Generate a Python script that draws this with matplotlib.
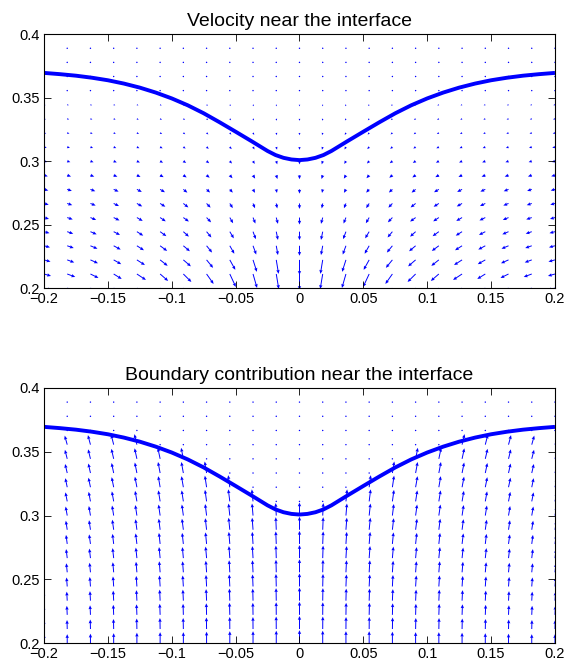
import numpy as np
import matplotlib
matplotlib.use('Agg')
import matplotlib.pyplot as plt

plt.rcParams['font.family'] = ['Liberation Sans', 'DejaVu Sans']

# ── grid of the quiver plots ──
xs = np.linspace(-0.2, 0.2, 23)
ys = np.linspace(0.2, 0.4, 19)

# ── interface curve ──
curve_x = [-0.2, -0.1875, -0.175, -0.1625, -0.15, -0.1375, -0.125, -0.1125, -0.1,
           -0.0875, -0.075, -0.0625, -0.05, -0.0375, -0.025, -0.01875, -0.0125, -0.00625, 0.0,
           0.00625, 0.0125, 0.01875, 0.025, 0.0375, 0.05, 0.0625, 0.075, 0.0875, 0.1,
           0.1125, 0.125, 0.1375, 0.15, 0.1625, 0.175, 0.1875, 0.2]
curve_y = [0.3695, 0.3685, 0.3673, 0.3657, 0.3637, 0.3611, 0.3579, 0.3540, 0.3494,
           0.3440, 0.3377, 0.3306, 0.3232, 0.3157, 0.3080, 0.3048, 0.3026, 0.3013, 0.3008,
           0.3013, 0.3026, 0.3048, 0.3080, 0.3157, 0.3232, 0.3306, 0.3377, 0.3440, 0.3494,
           0.3540, 0.3579, 0.3611, 0.3637, 0.3657, 0.3673, 0.3685, 0.3695]

# ── velocity near the interface (rows: y = 0.2 ... 0.4) ──
vel_u = [
    [7.5, 8.5, 8.5, 9, 9.5, 9, 9, 8, 7, 5, 3, 0, -3, -5, -7, -8, -9, -9, -9.5, -9, -8.5, -8.5, -7.5],
    [7, 8, 8, 8, 9, 8, 8, 7, 6, 4, 2.5, 0, -2.5, -4, -6, -7, -8, -8, -9, -8, -8, -8, -7],
    [6.5, 7, 7.5, 7.5, 8, 7.5, 7.5, 6.5, 5.5, 3.8, 2.3, 0, -2.3, -3.8, -5.5, -6.5, -7.5, -7.5, -8, -7.5, -7.5, -7, -6.5],
    [6, 6.5, 7, 7, 7, 7, 6.5, 5.5, 4.5, 3.2, 1.7, 0, -1.7, -3.2, -4.5, -5.5, -6.5, -7, -7, -7, -7, -6.5, -6],
    [5.5, 6, 6.2, 6.3, 6.3, 6.2, 5.5, 4.8, 4, 2.8, 1.7, 0, -1.7, -2.8, -4, -4.8, -5.5, -6.2, -6.3, -6.3, -6.2, -6, -5.5],
    [5, 5.5, 5.7, 5.8, 5.8, 5.6, 5.5, 4.5, 3.3, 2.4, 1.7, 0, -1.7, -2.4, -3.3, -4.5, -5.5, -5.6, -5.8, -5.8, -5.7, -5.5, -5],
    [4.7, 5, 5.2, 5.3, 5.3, 5.2, 5, 4, 3, 2, 1, 0, -1, -2, -3, -4, -5, -5.2, -5.3, -5.3, -5.2, -5, -4.7],
    [4.3, 4.6, 4.8, 4.9, 4.9, 4.8, 4, 3.5, 3, 2, 0.7, 0, -0.7, -2, -3, -3.5, -4, -4.8, -4.9, -4.9, -4.8, -4.6, -4.3],
    [3.8, 3.8, 3.8, 3.7, 3.6, 3.5, 3.3, 3.1, 2.7, 2.1, 1.2, 0, -1.2, -2.1, -2.7, -3.1, -3.3, -3.5, -3.6, -3.7, -3.8, -3.8, -3.8],
    [3.2, 3.1, 3.1, 3.1, 3, 2.9, 2.8, 2.6, 2.2, 1.7, 1, 0, -1, -1.7, -2.2, -2.6, -2.8, -2.9, -3, -3.1, -3.1, -3.1, -3.2],
    [2.7, 2.7, 2.6, 2.6, 2.5, 2.5, 2.3, 2.2, 1.9, 1.5, 0.8, 0, -0.8, -1.5, -1.9, -2.2, -2.3, -2.5, -2.5, -2.6, -2.6, -2.7, -2.7],
    [2.2, 2.2, 2.2, 2.1, 2.1, 2, 1.9, 1.8, 1.5, 1.2, 0.7, 0, -0.7, -1.2, -1.5, -1.8, -1.9, -2, -2.1, -2.1, -2.2, -2.2, -2.2],
    [1.9, 1.9, 1.9, 1.9, 1.8, 1.8, 1.7, 1.5, 1.3, 1, 0.6, 0, -0.6, -1, -1.3, -1.5, -1.7, -1.8, -1.8, -1.9, -1.9, -1.9, -1.9],
    [1.6, 1.6, 1.6, 1.6, 1.5, 1.5, 1.4, 1.3, 1.1, 0.9, 0.5, 0, -0.5, -0.9, -1.1, -1.3, -1.4, -1.5, -1.5, -1.6, -1.6, -1.6, -1.6],
    [1.3, 1.3, 1.3, 1.3, 1.3, 1.2, 1.2, 1.1, 0.9, 0.7, 0.4, 0, -0.4, -0.7, -0.9, -1.1, -1.2, -1.2, -1.3, -1.3, -1.3, -1.3, -1.3],
    [1.1, 1.1, 1.1, 1.1, 1.1, 1.1, 1, 0.9, 0.8, 0.6, 0.3, 0, -0.3, -0.6, -0.8, -0.9, -1, -1.1, -1.1, -1.1, -1.1, -1.1, -1.1],
    [1.1, 1, 1, 1, 1, 1, 0.9, 0.9, 0.7, 0.6, 0.3, 0, -0.3, -0.6, -0.7, -0.9, -0.9, -1, -1, -1, -1, -1, -1.1],
    [1, 1, 0.9, 0.9, 0.9, 0.9, 0.8, 0.8, 0.7, 0.5, 0.3, 0, -0.3, -0.5, -0.7, -0.8, -0.8, -0.9, -0.9, -0.9, -0.9, -1, -1],
    [0.9, 0.9, 0.8, 0.8, 0.8, 0.8, 0.8, 0.7, 0.6, 0.5, 0.3, 0, -0.3, -0.5, -0.6, -0.7, -0.8, -0.8, -0.8, -0.8, -0.8, -0.9, -0.9],
]
vel_v = [
    [-2, -3, -4.5, -5.5, -6.5, -8, -9, -11, -14, -16, -17, -18, -17, -16, -14, -11, -9, -8, -6.5, -5.5, -4.5, -3, -2],
    [-2, -3, -4, -5, -6, -7, -8, -10, -13, -14, -15, -16, -15, -14, -13, -10, -8, -7, -6, -5, -4, -3, -2],
    [-1.8, -2.6, -3.4, -4.3, -5.2, -6, -6.5, -8, -10, -12, -14, -15, -14, -12, -10, -8, -6.5, -6, -5.2, -4.3, -3.4, -2.6, -1.8],
    [-1.6, -2.3, -3, -3.8, -4.5, -5.2, -5.5, -6.8, -8, -8.8, -9.3, -10, -9.3, -8.8, -8, -6.8, -5.5, -5.2, -4.5, -3.8, -3, -2.3, -1.6],
    [-1.5, -2.1, -2.7, -3.3, -4, -4.5, -5, -5.8, -6.7, -7.5, -8.3, -8.5, -8.3, -7.5, -6.7, -5.8, -5, -4.5, -4, -3.3, -2.7, -2.1, -1.5],
    [-1.4, -1.9, -2.4, -2.9, -3.4, -3.8, -4, -4.8, -5.7, -6, -6.3, -7, -6.3, -6, -5.7, -4.8, -4, -3.8, -3.4, -2.9, -2.4, -1.9, -1.4],
    [-1.3, -1.7, -2.1, -2.6, -3, -3.3, -4, -4.2, -4.7, -4.8, -5, -5.5, -5, -4.8, -4.7, -4.2, -4, -3.3, -3, -2.6, -2.1, -1.7, -1.3],
    [-1.2, -1.6, -1.9, -2.3, -2.6, -2.9, -3.3, -3.2, -3.3, -3.5, -3.6, -4.3, -3.6, -3.5, -3.3, -3.2, -3.3, -2.9, -2.6, -2.3, -1.9, -1.6, -1.2],
    [-1.1, -1.3, -1.4, -1.5, -1.7, -1.9, -2.2, -2.5, -3, -3.4, -3.8, -4, -3.8, -3.4, -3, -2.5, -2.2, -1.9, -1.7, -1.5, -1.4, -1.3, -1.1],
    [-0.9, -1, -1.1, -1.3, -1.4, -1.6, -1.8, -2.1, -2.4, -2.8, -3.2, -3.3, -3.2, -2.8, -2.4, -2.1, -1.8, -1.6, -1.4, -1.3, -1.1, -1, -0.9],
    [-0.8, -0.9, -1, -1.1, -1.2, -1.3, -1.5, -1.8, -2.1, -2.4, -2.7, -2.8, -2.7, -2.4, -2.1, -1.8, -1.5, -1.3, -1.2, -1.1, -1, -0.9, -0.8],
    [-0.7, -0.7, -0.8, -0.9, -1, -1.1, -1.3, -1.5, -1.7, -2, -2.2, -2.3, -2.2, -2, -1.7, -1.5, -1.3, -1.1, -1, -0.9, -0.8, -0.7, -0.7],
    [-0.6, -0.6, -0.7, -0.8, -0.9, -1, -1.1, -1.3, -1.5, -1.7, -1.9, -2, -1.9, -1.7, -1.5, -1.3, -1.1, -1, -0.9, -0.8, -0.7, -0.6, -0.6],
    [-0.5, -0.5, -0.6, -0.6, -0.7, -0.8, -0.9, -1.1, -1.3, -1.5, -1.6, -1.7, -1.6, -1.5, -1.3, -1.1, -0.9, -0.8, -0.7, -0.6, -0.6, -0.5, -0.5],
    [-0.4, -0.4, -0.5, -0.5, -0.6, -0.7, -0.8, -0.9, -1, -1.2, -1.3, -1.4, -1.3, -1.2, -1, -0.9, -0.8, -0.7, -0.6, -0.5, -0.5, -0.4, -0.4],
    [-0.3, -0.4, -0.4, -0.5, -0.5, -0.6, -0.7, -0.8, -0.9, -1, -1.1, -1.2, -1.1, -1, -0.9, -0.8, -0.7, -0.6, -0.5, -0.5, -0.4, -0.4, -0.3],
    [-0.3, -0.3, -0.4, -0.4, -0.5, -0.5, -0.6, -0.7, -0.8, -0.9, -1.1, -1.1, -1.1, -0.9, -0.8, -0.7, -0.6, -0.5, -0.5, -0.4, -0.4, -0.3, -0.3],
    [-0.3, -0.3, -0.3, -0.4, -0.4, -0.5, -0.6, -0.6, -0.7, -0.9, -1, -1, -1, -0.9, -0.7, -0.6, -0.6, -0.5, -0.4, -0.4, -0.3, -0.3, -0.3],
    [-0.3, -0.3, -0.3, -0.3, -0.4, -0.4, -0.5, -0.6, -0.7, -0.8, -0.9, -0.9, -0.9, -0.8, -0.7, -0.6, -0.5, -0.4, -0.4, -0.3, -0.3, -0.3, -0.3],
]

# ── boundary contribution near the interface ──
bnd_u = [
    [0] * 23,
    [-0.2, -0.2, -0.2, -0.2, -0.2, -0.2, -0.2, -0.2, -0.1, -0.1, -0.1, 0, 0.1, 0.1, 0.1, 0.2, 0.2, 0.2, 0.2, 0.2, 0.2, 0.2, 0.2],
    [-0.4, -0.4, -0.4, -0.4, -0.4, -0.4, -0.3, -0.3, -0.3, -0.2, -0.1, 0, 0.1, 0.2, 0.3, 0.3, 0.3, 0.4, 0.4, 0.4, 0.4, 0.4, 0.4],
    [-0.6, -0.5, -0.5, -0.5, -0.5, -0.5, -0.5, -0.5, -0.4, -0.3, -0.2, 0, 0.2, 0.3, 0.4, 0.5, 0.5, 0.5, 0.5, 0.5, 0.5, 0.5, 0.6],
    [-0.8, -0.7, -0.7, -0.7, -0.7, -0.7, -0.7, -0.6, -0.6, -0.5, -0.3, 0, 0.3, 0.5, 0.6, 0.6, 0.7, 0.7, 0.7, 0.7, 0.7, 0.7, 0.8],
    [-1, -0.9, -0.9, -0.9, -0.9, -0.9, -0.8, -0.8, -0.7, -0.6, -0.3, 0, 0.3, 0.6, 0.7, 0.8, 0.8, 0.9, 0.9, 0.9, 0.9, 0.9, 1],
    [-1.2, -1.1, -1.1, -1.1, -1.1, -1.1, -1, -1, -0.9, -0.7, -0.4, 0, 0.4, 0.7, 0.9, 1, 1, 1.1, 1.1, 1.1, 1.1, 1.1, 1.2],
    [-1.4, -1.2, -1.3, -1.2, -1.3, -1.2, -1.2, -1.1, -1, -0.8, -0.5, 0, 0.5, 0.8, 1, 1.1, 1.2, 1.2, 1.3, 1.2, 1.3, 1.2, 1.4],
    [-1.6, -1.4, -1.4, -1.4, -1.4, -1.4, -1.4, -1.3, -1.2, -0.9, -0.5, 0, 0.5, 0.9, 1.2, 1.3, 1.4, 1.4, 1.4, 1.4, 1.4, 1.4, 1.6],
    [-1.9, -1.6, -1.6, -1.6, -1.6, -1.6, -1.5, -1.4, -1.3, -1, -0.6, 0, 0.6, 1, 1.3, 1.4, 1.5, 1.6, 1.6, 1.6, 1.6, 1.6, 1.9],
    [-2.1, -1.8, -1.8, -1.8, -1.8, -1.8, -1.7, -1.6, -1.5, -1.2, 0, 0, 0, 1.2, 1.5, 1.6, 1.7, 1.8, 1.8, 1.8, 1.8, 1.8, 2.1],
    [-2.3, -1.9, -2, -2, -2, -1.9, -1.9, -1.7, -1.6, 0, 0, 0, 0, 0, 1.6, 1.7, 1.9, 1.9, 2, 2, 2, 1.9, 2.3],
    [-2.5, -2.1, -2.1, -2.1, -2.1, -2.1, -2, -1.9, 0, 0, 0, 0, 0, 0, 0, 1.9, 2, 2.1, 2.1, 2.1, 2.1, 2.1, 2.5],
    [-2.7, -2.3, -2.3, -2.3, -2.3, -2.3, -2.2, 0, 0, 0, 0, 0, 0, 0, 0, 0, 2.2, 2.3, 2.3, 2.3, 2.3, 2.3, 2.7],
    [-2.9, -2.5, -2.5, -2.5, -2.5, 0, 0, 0, 0, 0, 0, 0, 0, 0, 0, 0, 0, 0, 2.5, 2.5, 2.5, 2.5, 2.9],
    [0] * 23,
    [0] * 23,
    [0] * 23,
    [0] * 23,
]
bnd_v = [
    [9, 9, 9.5, 10, 10.5, 11, 11, 11.5, 12, 12, 12.5, 13, 12.5, 12, 12, 11.5, 11, 11, 10.5, 10, 9.5, 9, 9],
    [9, 9, 9.5, 10, 10.5, 11, 11, 11.5, 12, 12, 12.5, 13, 12.5, 12, 12, 11.5, 11, 11, 10.5, 10, 9.5, 9, 9],
    [9, 9, 9.5, 10, 10.5, 11, 11, 11.5, 12, 12, 12.5, 13, 12.5, 12, 12, 11.5, 11, 11, 10.5, 10, 9.5, 9, 9],
    [9, 9, 9.5, 10, 10.5, 11, 11, 11.5, 12, 12, 12.5, 13, 12.5, 12, 12, 11.5, 11, 11, 10.5, 10, 9.5, 9, 9],
    [9, 9, 9.5, 10, 10.5, 11, 11, 11.5, 12, 12, 12.5, 13, 12.5, 12, 12, 11.5, 11, 11, 10.5, 10, 9.5, 9, 9],
    [9, 9, 9.5, 10, 10.5, 11, 11, 11.5, 12, 12, 12.5, 13, 12.5, 12, 12, 11.5, 11, 11, 10.5, 10, 9.5, 9, 9],
    [9, 9, 9.5, 10, 10.5, 11, 11, 11.5, 12, 12, 12.5, 13, 12.5, 12, 12, 11.5, 11, 11, 10.5, 10, 9.5, 9, 9],
    [9, 9, 9.5, 10, 10.5, 11, 11, 11.5, 12, 12, 12.5, 13, 12.5, 12, 12, 11.5, 11, 11, 10.5, 10, 9.5, 9, 9],
    [9, 9, 9.5, 10, 10.5, 11, 11, 11.5, 12, 12, 12.5, 13, 12.5, 12, 12, 11.5, 11, 11, 10.5, 10, 9.5, 9, 9],
    [9, 9, 9.5, 10, 10.5, 11, 11, 11.5, 12, 12, 12.5, 13, 12.5, 12, 12, 11.5, 11, 11, 10.5, 10, 9.5, 9, 9],
    [9, 9, 9.5, 10, 10.5, 11, 11, 11.5, 12, 12, 1.2, 1.2, 1.2, 12, 12, 11.5, 11, 11, 10.5, 10, 9.5, 9, 9],
    [9, 9, 9.5, 10, 10.5, 11, 11, 11.5, 12, 1.2, 1.2, 1.2, 1.2, 1.2, 12, 11.5, 11, 11, 10.5, 10, 9.5, 9, 9],
    [9, 9, 9.5, 10, 10.5, 11, 11, 11.5, 1.2, 1.2, 1.2, 1.2, 1.2, 1.2, 1.2, 11.5, 11, 11, 10.5, 10, 9.5, 9, 9],
    [9, 9, 9.5, 10, 10.5, 11, 11, 1.2, 1.2, 1.2, 1.2, 1.2, 1.2, 1.2, 1.2, 1.2, 11, 11, 10.5, 10, 9.5, 9, 9],
    [9, 9, 9.5, 10, 10.5, 1.2, 1.2, 1.2, 1.2, 1.2, 1.2, 1.2, 1.2, 1.2, 1.2, 1.2, 1.2, 1.2, 10.5, 10, 9.5, 9, 9],
    [1.2] * 23,
    [1.2] * 23,
    [1.2] * 23,
    [1.2] * 23,
]

xticks = [-0.2, -0.15, -0.1, -0.05, 0, 0.05, 0.1, 0.15, 0.2]
xticklabels = ['\u22120.2', '\u22120.15', '\u22120.1', '\u22120.05', '0', '0.05', '0.1', '0.15', '0.2']
yticks = [0.2, 0.25, 0.3, 0.35, 0.4]
yticklabels = ['0.2', '0.25', '0.3', '0.35', '0.4']

X, Y = np.meshgrid(xs, ys)

fig = plt.figure(figsize=(5.64, 6.70), dpi=100, facecolor='white')
ax1 = fig.add_axes([0.078, 0.570, 0.906, 0.379])
ax2 = fig.add_axes([0.078, 0.040, 0.906, 0.381])

panels = [(ax1, vel_u, vel_v, 'Velocity near the interface'),
          (ax2, bnd_u, bnd_v, 'Boundary contribution near the interface')]

for ax, U, V, title in panels:
    ax.quiver(X, Y, np.array(U), np.array(V), color='b', angles='xy',
              scale_units='xy', scale=1274, width=0.0019,
              headwidth=3.5, headlength=4, headaxislength=3.6, minlength=1.6)
    ax.plot(curve_x, curve_y, color='b', linewidth=2.8, solid_capstyle='butt')
    ax.set_xlim(-0.2, 0.2)
    ax.set_ylim(0.2, 0.4)
    ax.set_xticks(xticks)
    ax.set_xticklabels(xticklabels)
    ax.set_yticks(yticks)
    ax.set_yticklabels(yticklabels)
    ax.tick_params(direction='in', top=True, right=True, length=5, width=0.6,
                   labelsize=10.5, pad=3)
    for s in ax.spines.values():
        s.set_linewidth(0.8)
    ax.set_title(title, fontsize=14, pad=6)

fig.savefig('out.png', dpi=100, facecolor='white')
